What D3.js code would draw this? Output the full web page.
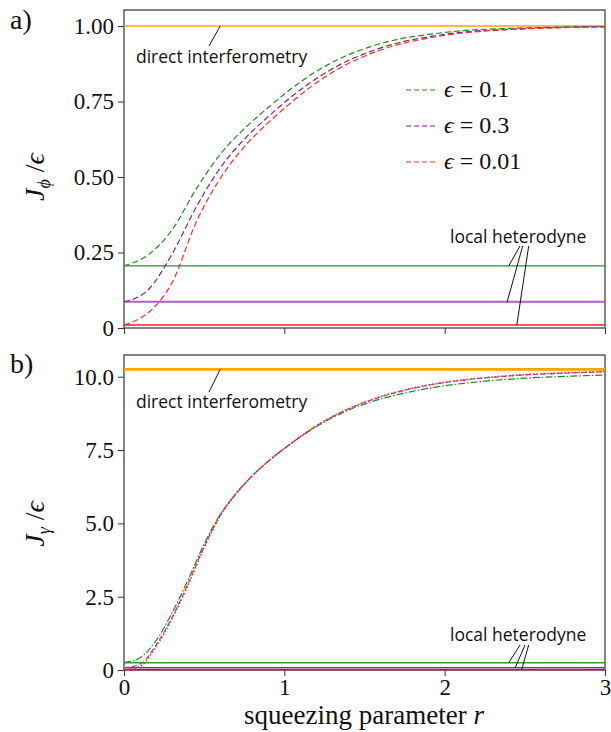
<!DOCTYPE html>
<html>
<head>
<meta charset="utf-8">
<script src="https://cdn.jsdelivr.net/npm/d3@7"></script>
</head>
<body style="margin:0">
<svg id="chart" width="611" height="732"></svg>
<script>
// squeezing parameter samples
const rTop = [0, 0.15, 0.3, 0.45, 0.6, 0.75, 0.9, 1.05, 1.2, 1.35, 1.5, 1.7, 1.9, 2.1, 2.4, 2.7, 3.0];
const phiEps01 = [0.206, 0.242, 0.325, 0.46, 0.575, 0.66, 0.73, 0.795, 0.85, 0.893, 0.925, 0.955, 0.972, 0.984, 0.992, 0.996, 0.998];
const phiEps03 = [0.087, 0.126, 0.245, 0.40, 0.53, 0.625, 0.70, 0.768, 0.826, 0.873, 0.908, 0.943, 0.964, 0.979, 0.989, 0.995, 0.998];
const rTopRed = [0, 0.1, 0.2, 0.3, 0.45, 0.6, 0.75, 0.9, 1.05, 1.2, 1.35, 1.5, 1.7, 1.9, 2.1, 2.4, 2.7, 3.0];
const phiEps001 = [0.01, 0.032, 0.075, 0.15, 0.35, 0.495, 0.60, 0.68, 0.75, 0.812, 0.862, 0.90, 0.937, 0.96, 0.976, 0.988, 0.994, 0.997];

const rBot = [0, 0.1, 0.2, 0.3, 0.4, 0.5, 0.6, 0.7, 0.8, 0.9, 1.0, 1.2, 1.4, 1.6, 1.8, 2.0, 2.2, 2.5, 2.8, 3.0];
const gamEps01 = [0.25, 0.42, 1.0, 1.95, 3.08, 4.3, 5.3, 6.02, 6.62, 7.12, 7.55, 8.3, 8.86, 9.24, 9.5, 9.69, 9.82, 9.95, 10.02, 10.06];
const gamEps03 = [0.08, 0.2, 0.85, 1.8, 2.95, 4.2, 5.27, 6.02, 6.62, 7.12, 7.55, 8.32, 8.9, 9.31, 9.6, 9.8, 9.93, 10.06, 10.13, 10.17];
const gamEps001 = [0.01, 0.12, 0.8, 1.75, 2.9, 4.18, 5.26, 6.02, 6.62, 7.12, 7.55, 8.33, 8.91, 9.32, 9.61, 9.81, 9.94, 10.07, 10.14, 10.18];

// limits (horizontal reference lines)
const directPhi = 1.0;
const directGamma = 10.25;
const heteroPhi = [0.206, 0.087, 0.01];
const heteroGamma = [0.25, 0.08, 0.01];

const legendLabels = ['0.1', '0.3', '0.01'];
const xTicks = [0, 1, 2, 3];
const yTicksTop = [0, 0.25, 0.5, 0.75, 1.0];
const yTickLabelsTop = ['0', '0.25', '0.50', '0.75', '1.00'];
const yTicksBot = [0, 2.5, 5, 7.5, 10];
const yTickLabelsBot = ['0', '2.5', '5.0', '7.5', '10.0'];

const curveColors = ['#1f8a1f', '#7f1f8f', '#ff2a2a'];
const heteroColors = ['#2e8b2e', '#b05cc0', '#ff2020'];
const heteroColorsBot = ['#3a9a3a', '#8a2a96', '#c0203a'];
const SERIF = "'Liberation Serif'";
const SANS = "'Open Sans'";

const svg = d3.select('#chart');
const x = d3.scaleLinear().domain([0, 3]).range([124, 605]);

function panel(top, bottom, yMax, yTicks, yLabels, showXLabels) {
  const y = d3.scaleLinear().domain([0, yMax]).range([bottom, top]);
  const g = svg.append('g');

  const yAxis = g.append('g')
    .attr('transform', 'translate(124,0)')
    .call(d3.axisLeft(y).tickValues(yTicks).tickFormat((d, i) => yLabels[i]).tickSize(6).tickPadding(4))
    .call((ax) => ax.select('.domain').remove());
  yAxis.selectAll('text').style('font-family', SERIF).style('font-size', '23px').attr('fill', '#111');
  yAxis.selectAll('line').attr('stroke', '#333');

  const xAxis = g.append('g')
    .attr('transform', `translate(0,${bottom})`)
    .call(d3.axisBottom(x).tickValues(xTicks).tickFormat(showXLabels ? d3.format('d') : () => '').tickSize(6).tickPadding(3))
    .call((ax) => ax.select('.domain').remove());
  xAxis.selectAll('text').style('font-family', SERIF).style('font-size', '23px').attr('fill', '#111');
  xAxis.selectAll('line').attr('stroke', '#333');

  g.append('rect')
    .attr('x', 124).attr('y', top)
    .attr('width', 605 - 124).attr('height', bottom - top)
    .attr('fill', 'none').attr('stroke', '#444').attr('stroke-width', 1.3);
  return { g, y };
}

function yLabel(cx, cy, sub) {
  const t = svg.append('text')
    .style('font-family', SERIF)
    .attr('transform', `translate(${cx},${cy}) rotate(-90)`)
    .attr('text-anchor', 'middle')
    .style('font-size', '28px').attr('fill', '#111');
  t.append('tspan').style('font-style', 'italic').text('J');
  t.append('tspan').style('font-style', 'italic').style('font-size', '18px').attr('dy', 6).text(sub);
  t.append('tspan').attr('dy', -6).text(' /');
  t.append('tspan').style('font-style', 'italic').text('ϵ');
}

function note(g, text, tx, ty, links) {
  g.append('text')
    .style('font-family', SANS)
    .attr('x', tx).attr('y', ty)
    .style('font-size', '17.5px').attr('fill', '#111')
    .text(text);
  links.forEach((l) => {
    g.append('line')
      .attr('x1', l[0]).attr('y1', l[1]).attr('x2', l[2]).attr('y2', l[3])
      .attr('stroke', '#111').attr('stroke-width', 1);
  });
}

const line = (y) => d3.line().x((d) => x(d[0])).y((d) => y(d[1])).curve(d3.curveMonotoneX);

// ---------- panel a ----------
const pa = panel(10, 328, 1.053, yTicksTop, yTickLabelsTop, false);
heteroPhi.forEach((v, i) => {
  pa.g.append('line')
    .attr('x1', x(0)).attr('x2', x(3)).attr('y1', pa.y(v)).attr('y2', pa.y(v))
    .attr('stroke', heteroColors[i]).attr('stroke-width', i === 1 ? 2 : 1.3);
});
pa.g.append('line')
  .attr('x1', x(0)).attr('x2', x(3)).attr('y1', pa.y(directPhi)).attr('y2', pa.y(directPhi))
  .attr('stroke', '#ffa020').attr('stroke-width', 1.6);

const topSeries = [
  { r: rTop, v: phiEps01 },
  { r: rTop, v: phiEps03 },
  { r: rTopRed, v: phiEps001 },
];
topSeries.forEach((s, i) => {
  pa.g.append('path')
    .datum(s.r.map((r, j) => [r, s.v[j]]))
    .attr('d', line(pa.y))
    .attr('fill', 'none')
    .attr('stroke', curveColors[i])
    .attr('stroke-width', 1.2)
    .attr('stroke-dasharray', '6,3');
});

note(pa.g, 'direct interferometry', 136, 63, [[209, 46, x(0.6), pa.y(directPhi)]]);
note(pa.g, 'local heterodyne', 450, 243, [
  [520, 246, x(2.4), pa.y(heteroPhi[0])],
  [522.7, 246, x(2.39), pa.y(heteroPhi[1])],
  [528.7, 246, x(2.45), pa.y(heteroPhi[2])],
]);

// legend
legendLabels.forEach((lab, i) => {
  const ly = 90 + i * 36;
  pa.g.append('line')
    .attr('x1', 406).attr('x2', 438).attr('y1', ly).attr('y2', ly)
    .attr('stroke', curveColors[i]).attr('stroke-width', 1.2)
    .attr('stroke-dasharray', '5,3');
  const t = pa.g.append('text')
    .style('font-family', SERIF)
    .attr('x', 444).attr('y', ly + 7)
    .style('font-size', '24px').attr('fill', '#111');
  t.append('tspan').style('font-style', 'italic').text('ϵ');
  t.append('tspan').text(' = ' + lab);
});

// ---------- panel b ----------
const pb = panel(355, 670, 10.74, yTicksBot, yTickLabelsBot, true);
heteroGamma.forEach((v, i) => {
  pb.g.append('line')
    .attr('x1', x(0)).attr('x2', x(3)).attr('y1', pb.y(v)).attr('y2', pb.y(v))
    .attr('stroke', heteroColorsBot[i]).attr('stroke-width', 1.5);
});
pb.g.append('line')
  .attr('x1', x(0)).attr('x2', x(3)).attr('y1', pb.y(directGamma)).attr('y2', pb.y(directGamma))
  .attr('stroke', '#ffa500').attr('stroke-width', 2.8);

const botSeries = [gamEps01, gamEps03, gamEps001];
const botDash = ['7,2,1.5,2', '5,3', '1.5,2'];
const botColors = ['#1f8a1f', '#a040b0', '#ff2a2a'];
botSeries.forEach((vals, i) => {
  pb.g.append('path')
    .datum(rBot.map((r, j) => [r, vals[j]]))
    .attr('d', line(pb.y))
    .attr('fill', 'none')
    .attr('stroke', botColors[i])
    .attr('stroke-width', i === 2 ? 1.6 : 1.2)
    .attr('stroke-dasharray', botDash[i]);
});

note(pb.g, 'direct interferometry', 136, 408, [[209, 392, x(0.6), pb.y(directGamma)]]);
note(pb.g, 'local heterodyne', 450, 641, [
  [520, 645, x(2.4), pb.y(heteroGamma[0])],
  [525, 645, x(2.44), pb.y(heteroGamma[1])],
  [528.7, 645, x(2.48), pb.y(heteroGamma[2])],
]);

// labels
svg.append('text').style('font-family', SERIF).attr('x', 10).attr('y', 29)
  .style('font-size', '28px').attr('fill', '#111').text('a)');
svg.append('text').style('font-family', SERIF).attr('x', 10).attr('y', 373)
  .style('font-size', '28px').attr('fill', '#111').text('b)');
yLabel(44, 177, 'ϕ');
yLabel(44, 524, 'γ');

const xl = svg.append('text')
  .style('font-family', SERIF)
  .attr('x', 364).attr('y', 724)
  .attr('text-anchor', 'middle')
  .style('font-size', '27px').attr('fill', '#111');
xl.append('tspan').text('squeezing parameter ');
xl.append('tspan').style('font-style', 'italic').text('r');
</script>
</body>
</html>
